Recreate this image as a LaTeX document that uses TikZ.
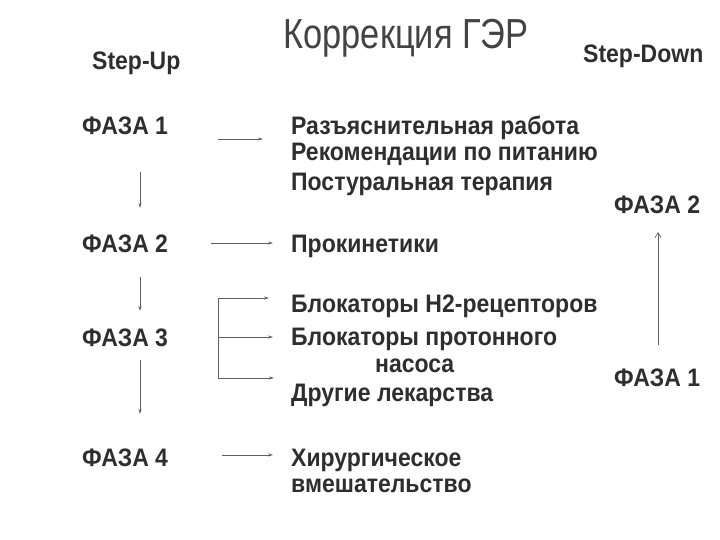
\documentclass[tikz,border=0pt]{standalone}
\usepackage{fontspec}
\setmainfont{Liberation Sans}
\usetikzlibrary{arrows.meta}
\definecolor{txt}{HTML}{2E2E2E}
\definecolor{ln}{HTML}{606060}
\newcommand\tl[1]{\scalebox{1}[1.1]{#1}}
\begin{document}
\begin{tikzpicture}[x=1pt,y=-1pt,
  lbl/.style={anchor=base west,inner sep=0pt,text=txt,font=\fontsize{23}{27}\selectfont\bfseries},
  ttl/.style={anchor=base,inner sep=0pt,text=txt!90!white,font=\fontsize{40}{44}\selectfont},
  arr/.style={draw=ln,line width=0.7pt,-{Stealth[length=5pt,width=3pt]}},
  ln/.style={draw=ln,line width=0.7pt}]
\fill[white] (0,0) rectangle (720,540);
\useasboundingbox (0,0) rectangle (720,540);
% title and headers
\node[ttl] (title) at (406,49) {\scalebox{0.86}[1.05]{Коррекция ГЭР}};
\node[lbl] (up) at (92,70) {\tl{Step-Up}};
\node[lbl] (down) at (583,63) {\tl{Step-Down}};
% left phases
\node[lbl] (f1) at (82,135) {\tl{ФАЗА 1}};
\node[lbl] (f2) at (82,252) {\tl{ФАЗА 2}};
\node[lbl] (f3) at (82,346) {\tl{ФАЗА 3}};
\node[lbl] (f4) at (82,466) {\tl{ФАЗА 4}};
% right texts
\node[lbl] (t1a) at (291,135) {\tl{Разъяснительная работа}};
\node[lbl] (t1b) at (291,161) {\tl{Рекомендации по питанию}};
\node[lbl] (t1c) at (291,191) {\tl{Постуральная терапия}};
\node[lbl] (t2) at (291,252) {\tl{Прокинетики}};
\node[lbl] (t3a) at (291,312) {\tl{Блокаторы Н2-рецепторов}};
\node[lbl] (t3b) at (291,345) {\tl{Блокаторы протонного}};
\node[lbl] (t3c) at (375,372) {\tl{насоса}};
\node[lbl] (t3d) at (291,401) {\tl{Другие лекарства}};
\node[lbl] (t4a) at (291,466) {\tl{Хирургическое}};
\node[lbl] (t4b) at (291,492) {\tl{вмешательство}};
% step-down phases
\node[lbl] (d2) at (614,214) {\tl{ФАЗА 2}};
\node[lbl] (d1) at (614,386) {\tl{ФАЗА 1}};
% arrow coordinates
\coordinate (a1s) at (218,139); \coordinate (a1e) at (263,139);
\coordinate (a2s) at (211,243); \coordinate (a2e) at (273,243);
\coordinate (a4s) at (222,455); \coordinate (a4e) at (273,455);
\coordinate (v1s) at (140,172); \coordinate (v1e) at (140,208);
\coordinate (v2s) at (140,277); \coordinate (v2e) at (140,311);
\coordinate (v3s) at (140,360); \coordinate (v3e) at (140,414);
\coordinate (bt) at (218,298); \coordinate (bm) at (218,337); \coordinate (bb) at (218,378);
\coordinate (bte) at (269,298); \coordinate (bme) at (273,337); \coordinate (bbe) at (274,378);
\coordinate (us) at (658,345); \coordinate (ue) at (658,232);
% connectors
\draw[arr] (a1s) -- (a1e);
\draw[arr] (a2s) -- (a2e);
\draw[arr] (a4s) -- (a4e);
\draw[arr] (v1s) -- (v1e);
\draw[arr] (v2s) -- (v2e);
\draw[arr] (v3s) -- (v3e);
\draw[ln] (bt) -- (bb);
\draw[arr] (bt) -- (bte);
\draw[arr] (bm) -- (bme);
\draw[arr] (bb) -- (bbe);
\draw[draw=ln,line width=0.7pt,-{Straight Barb[length=5pt,width=6pt]}] (us) -- (ue);
\end{tikzpicture}
\end{document}
